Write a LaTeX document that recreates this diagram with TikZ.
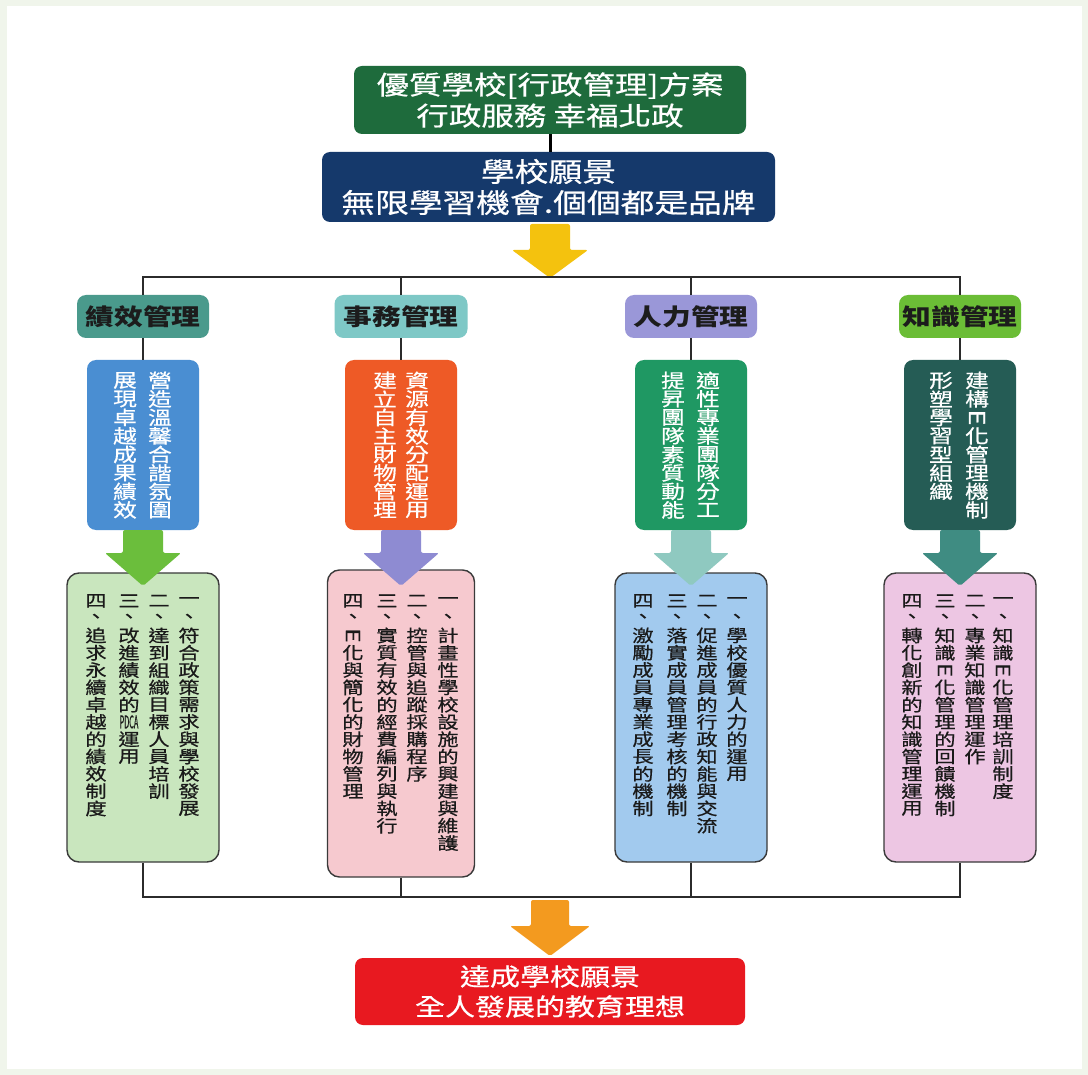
\documentclass[tikz,border=0pt]{standalone}
\usepackage{fontspec}
\usepackage{graphicx}
\setmainfont{Noto Sans CJK TC}[FakeStretch=1.25]
\newfontfamily\thick{Noto Sans CJK TC}[FakeStretch=1.25,FakeBold=0.6]

\definecolor{framec}{HTML}{F0F5EB}
\definecolor{topgreen}{HTML}{1E6B3C}
\definecolor{navy}{HTML}{15396B}
\definecolor{yellowarr}{HTML}{F4C20E}
\definecolor{linec}{HTML}{2B2B2B}
\definecolor{h1c}{HTML}{4A9A8C}
\definecolor{h2c}{HTML}{7EC8C6}
\definecolor{h3c}{HTML}{9A97D8}
\definecolor{h4c}{HTML}{6BBD36}
\definecolor{hdrtext}{HTML}{1C1C1C}
\definecolor{m1c}{HTML}{4A8ED2}
\definecolor{m2c}{HTML}{EE5A26}
\definecolor{m3c}{HTML}{1F9863}
\definecolor{m4c}{HTML}{255C55}
\definecolor{b1c}{HTML}{C9E6BE}
\definecolor{b2c}{HTML}{F6C9CF}
\definecolor{b3c}{HTML}{A2CAEE}
\definecolor{b4c}{HTML}{EDC6E3}
\definecolor{boxborder}{HTML}{3A3A3A}
\definecolor{a1c}{HTML}{6BBE3C}
\definecolor{a2c}{HTML}{8E8BD2}
\definecolor{a3c}{HTML}{8FC9C0}
\definecolor{a4c}{HTML}{3F8C82}
\definecolor{orangearr}{HTML}{F39A1F}
\definecolor{redc}{HTML}{E81920}
\definecolor{lowtext}{HTML}{1A1A1A}

\newlength\vpitch
\def\vtextloop#1{\ifx#1\relax\else\hbox to 0pt{\hss\vbox to\vpitch{\vss\hbox{#1}\vss}\hss}\expandafter\vtextloop\fi}
\newcommand\vtext[2]{\setlength\vpitch{#1}\vbox{\offinterlineskip\vtextloop#2\relax}}
\newcommand\Erot{\scalebox{1.15}{\rotatebox[origin=c]{-90}{E}}}
\newcommand\PDCA{\resizebox{1.1em}{0.78em}{PDCA}}
\newcommand\fatarrow[7]{\fill[#1,rounded corners=2pt] ({#2-#6},#3) -- ({#2+#6},#3) -- ({#2+#6},#4) -- ({#2+#7},#4) -- (#2,#5) -- ({#2-#7},#4) -- ({#2-#6},#4) -- cycle;}

\begin{document}
\begin{tikzpicture}[x=1pt,y=-1pt,
  line/.style={draw=linec, line width=1.6pt},
  hdr/.style={rounded corners=9pt, minimum height=43, inner sep=0, font=\fontsize{23}{23}\selectfont\bfseries, text=hdrtext},
  midbox/.style={rounded corners=9pt, minimum width=112, minimum height=170, inner sep=0},
  lowbox/.style={rounded corners=12pt, draw=boxborder, line width=1.4pt, minimum width=152, minimum height=289, inner sep=0},
  vmid/.style={anchor=north, inner sep=0, text=white, font=\thick\fontsize{19}{19}\selectfont},
  vlow/.style={anchor=north, inner sep=0, text=lowtext, font=\thick\fontsize{17}{17}\selectfont},
  bigtext/.style={inner sep=0, text=white, align=center, rounded corners=8pt},
]
\useasboundingbox (0,0) rectangle (1088,1075);
\fill[framec] (0,0) rectangle (1088,1075);
\fill[white] (7,6) rectangle (1082,1069);

% top boxes
\node[bigtext, fill=topgreen, minimum width=392, minimum height=68, font=\thick\fontsize{26}{31}\selectfont] (top) at (550,100) {優質學校[行政管理]方案\\行政服務 幸福北政};
\node[bigtext, fill=navy, minimum width=453, minimum height=70, font=\thick\fontsize{27}{31}\selectfont] (vision) at (548.5,187) {學校願景\\無限學習機會.個個都是品牌};
\draw[line width=3pt, draw=black] (top.south) -- (top.south |- vision.north);

\fatarrow{yellowarr}{550}{224}{250}{278}{20}{38}

% headers
\node[hdr, fill=h1c, minimum width=132] (h1) at (143,316.5) {績效管理};
\node[hdr, fill=h2c, minimum width=133] (h2) at (401,316.5) {事務管理};
\node[hdr, fill=h3c, minimum width=132] (h3) at (691,316.5) {人力管理};
\node[hdr, fill=h4c, minimum width=122] (h4) at (960,316.5) {知識管理};

\coordinate (bus) at (550,277);
\draw[line] (h1.north) |- (bus) -| (h4.north);
\draw[line] (h2.north) -- (h2.north |- bus);
\draw[line] (h3.north) -- (h3.north |- bus);

% middle boxes
\node[midbox, fill=m1c] (m1) at (143,445) {};
\node[midbox, fill=m2c] (m2) at (401,445) {};
\node[midbox, fill=m3c] (m3) at (691,445) {};
\node[midbox, fill=m4c] (m4) at (960,445) {};
\foreach \i in {1,2,3,4} {\draw[line] (h\i.south) -- (m\i.north);}

\node[vmid] (m1r) at (160,371) {\vtext{18.5pt}{營造溫馨合諧氛圍}};
\node[vmid] (m1l) at (125,371) {\vtext{18.5pt}{展現卓越成果績效}};
\node[vmid] (m2r) at (417,371) {\vtext{18.5pt}{資源有效分配運用}};
\node[vmid] (m2l) at (385,371) {\vtext{18.5pt}{建立自主財物管理}};
\node[vmid] (m3r) at (708,371) {\vtext{18.5pt}{適性專業團隊分工}};
\node[vmid] (m3l) at (673,371) {\vtext{18.5pt}{提昇團隊素質動能}};
\node[vmid] (m4r) at (977,371) {\vtext{18.5pt}{建構\Erot 化管理機制}};
\node[vmid] (m4l) at (941,371) {\vtext{18.5pt}{形塑學習型組織}};

% lower boxes
\node[lowbox, fill=b1c] (b1) at (143,717.5) {};
\node[lowbox, fill=b2c, minimum width=147, minimum height=307] (b2) at (401,723.5) {};
\node[lowbox, fill=b3c] (b3) at (691,717.5) {};
\node[lowbox, fill=b4c] (b4) at (960,717.5) {};

\fatarrow{a1c}{143}{530}{553}{586}{20}{38}
\fatarrow{a2c}{401}{530}{553}{586}{20}{38}
\fatarrow{a3c}{691}{530}{553}{586}{20}{38}
\fatarrow{a4c}{960}{530}{553}{586}{20}{38}

\node[vlow] (t11) at (189,592) {\vtext{17.3pt}{一、符合政策需求與學校發展}};
\node[vlow] (t12) at (159,592) {\vtext{17.3pt}{二、達到組織目標人員培訓}};
\node[vlow] (t13) at (129,592) {\vtext{17.3pt}{三、改進績效的\PDCA 運用}};
\node[vlow] (t14) at (96,592) {\vtext{17.3pt}{四、追求永續卓越的績效制度}};

\node[vlow] (t21) at (448,592) {\vtext{17.3pt}{一、計畫性學校設施的興建與維護}};
\node[vlow] (t22) at (417,592) {\vtext{17.3pt}{二、控管與追蹤採購程序}};
\node[vlow] (t23) at (387,592) {\vtext{17.3pt}{三、實質有效的經費編列與執行}};
\node[vlow] (t24) at (353,592) {\vtext{17.3pt}{四、\Erot 化與簡化的財物管理}};

\node[vlow] (t31) at (737,592) {\vtext{17.3pt}{一、學校優質人力的運用}};
\node[vlow] (t32) at (707,592) {\vtext{17.3pt}{二、促進成員的行政知能與交流}};
\node[vlow] (t33) at (677,592) {\vtext{17.3pt}{三、落實成員管理考核的機制}};
\node[vlow] (t34) at (643,592) {\vtext{17.3pt}{四、激勵成員專業成長的機制}};

\node[vlow] (t41) at (1003,592) {\vtext{17.3pt}{一、知識\Erot 化管理培訓制度}};
\node[vlow] (t42) at (975,592) {\vtext{17.3pt}{二、專業知識管理運作}};
\node[vlow] (t43) at (945,592) {\vtext{17.3pt}{三、知識\Erot 化管理的回饋機制}};
\node[vlow] (t44) at (912,592) {\vtext{17.3pt}{四、轉化創新的知識管理運用}};

% bottom bus
\coordinate (busB) at (550,897);
\draw[line] (b1.south) |- (busB) -| (b4.south);
\draw[line] (b2.south) -- (b2.south |- busB);
\draw[line] (b3.south) -- (b3.south |- busB);

\fatarrow{orangearr}{550}{900}{926}{956}{19}{40}

\node[bigtext, fill=redc, minimum width=390, minimum height=67, font=\thick\fontsize{24}{30}\selectfont] (goal) at (550,991.5) {達成學校願景\\全人發展的教育理想};
\end{tikzpicture}
\end{document}
